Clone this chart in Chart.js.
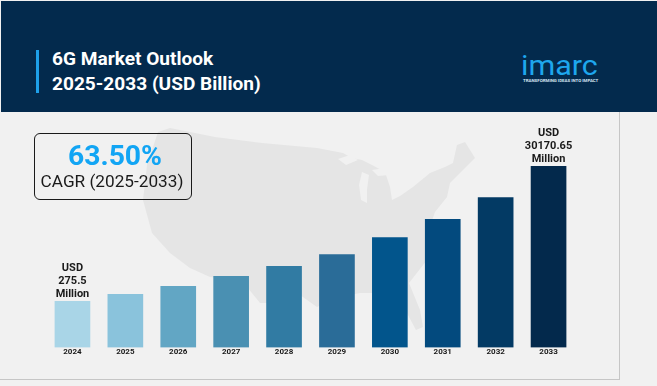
<!DOCTYPE html>
<html><head><meta charset="utf-8">
<script src="https://cdn.jsdelivr.net/npm/chart.js@4"></script>
<style>
html,body{margin:0;padding:0;width:657px;height:386px;overflow:hidden;background:#f1f1f1;font-family:Roboto,sans-serif}
#panel{position:absolute;left:0;top:112px;width:619px;height:267px;border-right:1px solid #c6c6c6;border-bottom:1px solid #c6c6c6;background:#f1f1f1}
#map{position:absolute;left:0;top:0}
#header{position:absolute;left:1px;top:1px;width:656px;height:111px;background:#032a4d}
#rule{position:absolute;left:36px;top:50px;width:3px;height:43px;background:#1ea0ea}
#title{position:absolute;left:52px;top:46px;color:#fff;font-weight:700;font-size:19.1px;line-height:25px;white-space:nowrap}
#logo{position:absolute;left:521px;top:53px;color:#1ea7ee;font:400 27px/27px Roboto,sans-serif;transform-origin:0 0;transform:scaleX(1.13);white-space:nowrap}
#tag{position:absolute;left:523px;top:78px;color:#d5e6f2;font:700 4.4px/6px Roboto,sans-serif;white-space:nowrap}
#c{position:absolute;left:0;top:0}
#box{position:absolute;left:34px;top:133px;width:156px;height:65px;border:1px solid #1a1a1a;border-radius:6px;text-align:center}
#pct{color:#12a5f4;font-weight:700;font-size:28.3px;line-height:30px;margin-top:7px;padding-left:4px}
#cagr{color:#1a1a1a;font-size:17.2px;line-height:20px;margin-top:0;white-space:nowrap;padding-right:2px}
</style></head><body>
<div id="panel"></div>
<svg id="map" width="657" height="386">
<path fill="#e5e5e5" d="M170 128 L215 137 L262 143 L317 148 L343 153 L352 158 L362 160 L372 165 L385 172 L390 187 L392 200 L400 196 L413 187 L430 173 L445 167 L453 163 L457 145 L465 142 L475 158 L463 170 L450 183 L447 197 L435 212 L427 235 L427 260 L409 283 L420 310 L423 327 L416 330 L408 315 L400 294 L385 293 L372 293 L360 293 L345 296 L330 300 L317 307 L300 295 L277 287 L267 303 L260 303 L247 287 L232 280 L210 277 L190 268 L170 253 L152 233 L143 200 L147 165 L158 132 Z"/>
<path fill="#f1f1f1" d="M338 159 L350 155 L358 160 L346 165 Z M362 172 L369 175 L367 190 L367 203 L361 200 L359 185 Z M372 170 L385 168 L389 175 L378 176 Z"/>
</svg>
<div id="header"></div><div id="rule"></div>
<div id="title">6G Market Outlook<br>2025-2033 (USD Billion)</div>
<div id="logo">imarc</div><div id="tag">TRANSFORMING IDEAS INTO IMPACT</div>
<canvas id="c" width="657" height="386"></canvas>
<div id="box"><div id="pct">63.50%</div><div id="cagr">CAGR (2025-2033)</div></div>
<script>
const categories=["2024","2025","2026","2027","2028","2029","2030","2031","2032","2033"];
const values=[275.5,351,464,654,927,1400,2520,4720,10060,30170.65];
const colors=["#a9d5e7","#8ac3dc","#62a6c4","#4a90b2","#317ba3","#2a6c98","#02558c","#034a7e","#033a64","#03294c"];
const endLabels={0:["USD","275.5","Million"],9:["USD","30170.65","Million"]};
const labelPlugin={id:"endLabels",afterDatasetsDraw(chart){
  const ctx=chart.ctx,meta=chart.getDatasetMeta(0);
  ctx.save();ctx.font="700 11px Roboto";ctx.fillStyle="#1a1a1a";ctx.textAlign="center";ctx.textBaseline="middle";
  Object.keys(endLabels).forEach(k=>{const el=meta.data[k],ls=endLabels[k];
    ls.forEach((t,i)=>ctx.fillText(t,el.x,el.y-7-13*(ls.length-1-i)));});
  ctx.restore();}};
new Chart(document.getElementById("c"),{type:"bar",
 data:{labels:categories,datasets:[{data:values,backgroundColor:colors,barThickness:35,borderWidth:0}]},
 plugins:[labelPlugin],
 options:{responsive:false,animation:false,events:[],
  layout:{padding:{left:46,right:82,top:166,bottom:29}},
  plugins:{legend:{display:false},tooltip:{enabled:false}},
  scales:{
   x:{grid:{display:false,drawTicks:false},border:{display:false},ticks:{color:"#1a1a1a",font:{family:"Roboto",weight:"700",size:8},padding:0,maxRotation:0}},
   y:{type:"logarithmic",display:false,min:55.6,max:30170.65}
  }}});
</script></body></html>
